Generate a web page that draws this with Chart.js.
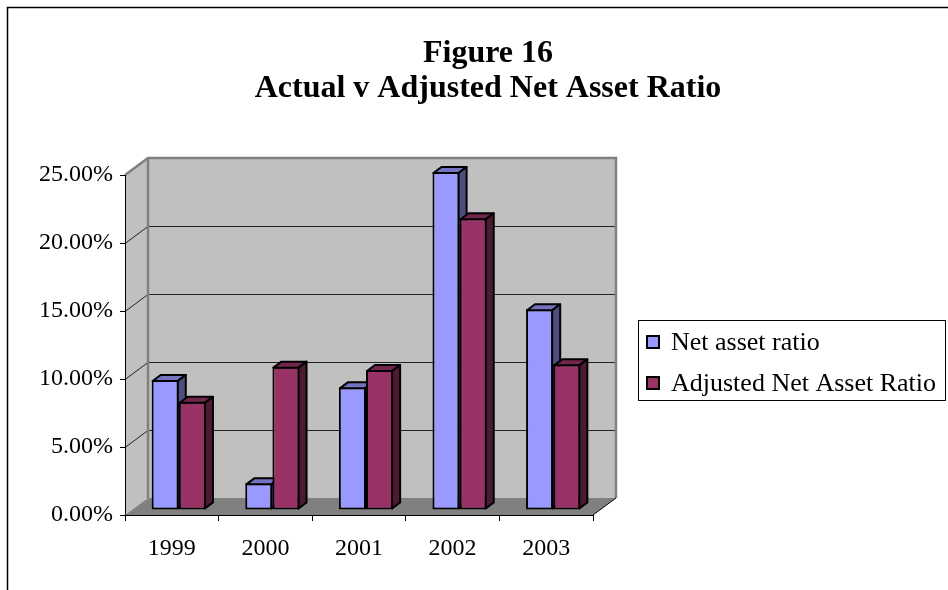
<!DOCTYPE html>
<html>
<head>
<meta charset="utf-8">
<script src="https://cdn.jsdelivr.net/npm/chart.js@4.4.0/dist/chart.umd.min.js"></script>
<style>
  html, body { margin: 0; padding: 0; background: #fff; overflow: hidden; }
  canvas { display: block; }
</style>
</head>
<body>
<canvas id="figChart" width="948" height="590"></canvas>
<script>
// values
const years = ['1999', '2000', '2001', '2002', '2003'];
const netAssetRatio = [0.0956, 0.0196, 0.0902, 0.2485, 0.1476];
const adjustedRatio = [0.0796, 0.1054, 0.1029, 0.2145, 0.1071];
const seriesNames = ['Net asset ratio', 'Adjusted Net Asset Ratio'];
const yTickLabels = ['0.00%', '5.00%', '10.00%', '15.00%', '20.00%', '25.00%'];
const titleLines = ['Figure 16', 'Actual v Adjusted Net Asset Ratio'];

const serif = "'Liberation Serif', 'Times New Roman', serif";

const colors = {
    blue: '#9999ff', blueTop: '#7373bf', blueSide: '#4d4d80',
    plum: '#993366', plumTop: '#73264d', plumSide: '#4d1a33',
    wall: '#c0c0c0', wallEdge: '#808080', floor: '#808080'
};

// 3d offsets (px): back wall vs front plane, bar plane vs front plane, column depth
const wallDepth = { x: 23, y: 17 };
const barShift = { x: 7, y: 5 };
const barDepth = { x: 8, y: 6 };

// walls, floor and gridlines, drawn before the axes
const walls = {
    id: 'walls',
    beforeDraw(chart) {
        const { ctx, chartArea: a } = chart;
        const yScale = chart.scales.y;
        const dx = wallDepth.x, dy = wallDepth.y;
        ctx.save();

        // outer chart frame
        ctx.strokeStyle = '#000';
        ctx.lineWidth = 1.5;
        ctx.beginPath();
        ctx.moveTo(7.5, 590);
        ctx.lineTo(7.5, 7.5);
        ctx.lineTo(948, 7.5);
        ctx.stroke();

        ctx.fillStyle = colors.wall;
        ctx.beginPath();
        ctx.moveTo(a.left, a.top);
        ctx.lineTo(a.left + dx, a.top - dy);
        ctx.lineTo(a.left + dx, a.bottom - dy);
        ctx.lineTo(a.left, a.bottom);
        ctx.closePath();
        ctx.fill();
        ctx.fillRect(a.left + dx, a.top - dy, a.right - a.left, a.bottom - a.top);

        ctx.fillStyle = colors.floor;
        ctx.beginPath();
        ctx.moveTo(a.left, a.bottom);
        ctx.lineTo(a.right, a.bottom);
        ctx.lineTo(a.right + dx, a.bottom - dy);
        ctx.lineTo(a.left + dx, a.bottom - dy);
        ctx.closePath();
        ctx.fill();

        // gridlines across side wall and back wall
        ctx.strokeStyle = '#222';
        ctx.lineWidth = 1;
        yScale.ticks.forEach(t => {
            if (t.value <= 0 || t.value >= yScale.max) return;
            const py = Math.round(yScale.getPixelForValue(t.value)) + 0.5;
            ctx.beginPath();
            ctx.moveTo(a.left, py);
            ctx.lineTo(a.left + dx, py - dy);
            ctx.lineTo(a.right + dx, py - dy);
            ctx.stroke();
        });

        // wall edges
        ctx.strokeStyle = colors.wallEdge;
        ctx.lineWidth = 2.5;
        ctx.beginPath();
        ctx.moveTo(a.left, a.top);
        ctx.lineTo(a.left + dx, a.top - dy);
        ctx.lineTo(a.right + dx, a.top - dy);
        ctx.lineTo(a.right + dx, a.bottom - dy);
        ctx.stroke();
        ctx.beginPath();
        ctx.moveTo(a.left + dx, a.top - dy);
        ctx.lineTo(a.left + dx, a.bottom - dy);
        ctx.stroke();

        ctx.strokeStyle = '#000';
        ctx.lineWidth = 1;
        ctx.beginPath();
        ctx.moveTo(a.right, a.bottom);
        ctx.lineTo(a.right + dx, a.bottom - dy);
        ctx.stroke();
        ctx.restore();
    }
};

// columns: front face from Chart.js, then top and side faces, category by category
const columns3d = {
    id: 'columns3d',
    beforeDatasetDraw() {
        return false; // drawn together below so the faces overlap properly
    },
    afterDatasetsDraw(chart) {
        const ctx = chart.ctx;
        const metas = chart.data.datasets.map((ds, i) => chart.getDatasetMeta(i));
        ctx.save();
        ctx.translate(barShift.x, -barShift.y);
        ctx.lineWidth = 2;
        ctx.lineJoin = 'round';
        ctx.strokeStyle = '#000';
        years.forEach((year, i) => {
            metas.forEach((meta, d) => {
                const ds = chart.data.datasets[d];
                const bar = meta.data[i];
                const L = bar.x - bar.width / 2;
                const R = bar.x + bar.width / 2;
                const T = bar.y;
                const B = bar.base;
                bar.draw(ctx);

                ctx.fillStyle = ds.topColor;
                ctx.beginPath();
                ctx.moveTo(L + 1, T + 1);
                ctx.lineTo(L + 1 + barDepth.x, T + 1 - barDepth.y);
                ctx.lineTo(R - 1 + barDepth.x, T + 1 - barDepth.y);
                ctx.lineTo(R - 1, T + 1);
                ctx.closePath();
                ctx.fill();
                ctx.stroke();

                ctx.fillStyle = ds.sideColor;
                ctx.beginPath();
                ctx.moveTo(R - 1, T + 1);
                ctx.lineTo(R - 1 + barDepth.x, T + 1 - barDepth.y);
                ctx.lineTo(R - 1 + barDepth.x, B - 1 - barDepth.y);
                ctx.lineTo(R - 1, B - 1);
                ctx.closePath();
                ctx.fill();
                ctx.stroke();
            });
        });
        ctx.restore();
    }
};

// title and boxed legend
const titleAndLegend = {
    id: 'titleAndLegend',
    afterDraw(chart) {
        const ctx = chart.ctx;
        ctx.save();
        ctx.fillStyle = '#000';
        ctx.textAlign = 'center';
        ctx.textBaseline = 'middle';
        ctx.font = 'bold 32px ' + serif;
        titleLines.forEach((line, i) => ctx.fillText(line, 488, 54 + i * 35));

        ctx.strokeStyle = '#000';
        ctx.lineWidth = 1;
        ctx.strokeRect(638.5, 320.5, 307, 80);
        ctx.font = '26px ' + serif;
        ctx.textAlign = 'left';
        chart.data.datasets.forEach((ds, i) => {
            const cy = 342 + i * 41;
            ctx.fillStyle = ds.backgroundColor;
            ctx.fillRect(647, cy - 6, 12, 12);
            ctx.lineWidth = 2;
            ctx.strokeRect(647, cy - 6, 12, 12);
            ctx.fillStyle = '#000';
            ctx.fillText(ds.label, 671, cy + 1);
        });
        ctx.restore();
    }
};

new Chart(document.getElementById('figChart'), {
    type: 'bar',
    data: {
        labels: years,
        datasets: [{
            label: seriesNames[0],
            data: netAssetRatio,
            backgroundColor: colors.blue,
            topColor: colors.blueTop,
            sideColor: colors.blueSide
        }, {
            label: seriesNames[1],
            data: adjustedRatio,
            backgroundColor: colors.plum,
            topColor: colors.plumTop,
            sideColor: colors.plumSide
        }]
    },
    options: {
        responsive: false,
        animation: false,
        devicePixelRatio: 1,
        layout: {
            padding: { left: 7, top: 175, right: 355, bottom: 15 }
        },
        datasets: {
            bar: {
                borderColor: '#000',
                borderWidth: 2,
                borderSkipped: false,
                categoryPercentage: 0.58,
                barPercentage: 1
            }
        },
        scales: {
            x: {
                afterFit(scale) { scale.height = 60; },
                grid: {
                    display: true,
                    offset: true,
                    drawOnChartArea: false,
                    drawTicks: true,
                    tickLength: 6,
                    color: '#000'
                },
                border: { display: true, color: '#000', width: 1 },
                ticks: {
                    color: '#000',
                    padding: 13,
                    font: { family: serif, size: 24 }
                }
            },
            y: {
                min: 0,
                max: 0.25,
                afterFit(scale) { scale.width = 118; },
                grid: {
                    display: true,
                    drawOnChartArea: false,
                    drawTicks: true,
                    tickLength: 5,
                    color: '#000'
                },
                border: { display: true, color: '#000', width: 1 },
                ticks: {
                    stepSize: 0.05,
                    color: '#000',
                    padding: 7,
                    font: { family: serif, size: 24 },
                    callback: (value, index) => yTickLabels[index]
                }
            }
        },
        plugins: {
            legend: { display: false },
            title: { display: false },
            tooltip: { enabled: false }
        }
    },
    plugins: [walls, columns3d, titleAndLegend]
});
</script>
</body>
</html>
